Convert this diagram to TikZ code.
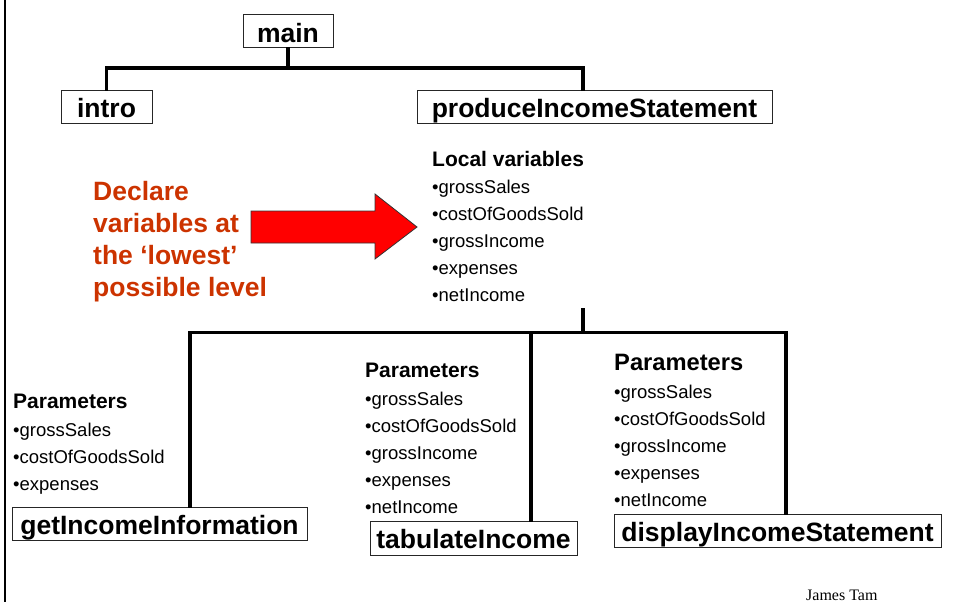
\documentclass[tikz,border=0pt]{standalone}
\usepackage{fontspec}
\setmainfont{Liberation Sans}
\newfontfamily\serifname{Liberation Serif}
\definecolor{declred}{RGB}{204,51,0}
\definecolor{arrowred}{RGB}{255,0,0}
\tikzset{
  fnbox/.style={draw=black!85, line width=1pt, inner sep=0pt, minimum height=33pt,
                text height=21pt, text depth=0pt,
                font=\fontsize{26.5}{30}\selectfont\bfseries},
  conn/.style={line width=3.6pt, line cap=rect},
  varlist/.style={anchor=north west, inner sep=0pt, align=left,
                  font=\fontsize{18.5}{27}\selectfont},
}
\newcommand{\hdr}[2]{{\fontsize{#1}{27}\selectfont\bfseries #2}}
\begin{document}
\begin{tikzpicture}[x=1pt,y=-1pt]
  \useasboundingbox (0,0) rectangle (957,602);
  % left page rule
  \draw[line width=2pt] (5,0) -- (5,602);

  % call hierarchy: top level
  \node[fnbox, minimum width=90pt]  (main)  at (288,31.5)   {main};
  \node[fnbox, minimum width=91pt]  (intro) at (106.5,106.5) {intro};
  \node[fnbox, minimum width=355pt] (pis)   at (594.5,106.5) {produceIncomeStatement};

  \coordinate (bar1) at (583,68);
  \draw[conn] (main.south) -- (main.south |- bar1);
  \draw[conn] (intro.north) |- (bar1) -- (bar1 |- pis.north);

  % local variables of produceIncomeStatement
  \node[varlist] (locals) at (432,151)
    {\hdr{21}{Local variables}\\ •grossSales\\ •costOfGoodsSold\\ •grossIncome\\ •expenses\\ •netIncome};

  % note with arrow
  \node[anchor=north west, inner sep=0pt, align=left, text=declred,
        font=\fontsize{26.5}{32}\selectfont\bfseries] (note) at (93,181.5)
    {Declare\\ variables at\\ the ‘lowest’\\ possible level};
  \draw[fill=arrowred, draw=black!80, line width=0.8pt]
    (251,211) -- (375,211) -- (375,194) -- (417,227) -- (375,259) -- (375,243) -- (251,243) -- cycle;

  % second level
  \node[fnbox, minimum width=295pt] (gii) at (159.5,523.5) {getIncomeInformation};
  \node[fnbox, minimum width=207pt, minimum height=34pt] (tab) at (473.5,538) {tabulateIncome};
  \node[fnbox, minimum width=327pt] (dis) at (777.5,530.5) {displayIncomeStatement};

  \coordinate (stemtop) at (583,310);
  \coordinate (bar2) at (583,332.5);
  \coordinate (bar2l) at (190,332.5);
  \coordinate (bar2m) at (531,332.5);
  \coordinate (bar2r) at (786,332.5);
  \draw[conn] (stemtop) -- (bar2);
  \draw[conn] (gii.north -| bar2l) -- (bar2l) -- (bar2r) -- (bar2r |- dis.north);
  \draw[conn] (bar2m) -- (bar2m |- tab.north);

  % parameter lists
  \node[varlist] (pgii) at (13,393.5)
    {\hdr{21}{Parameters}\\[1pt] •grossSales\\ •costOfGoodsSold\\ •expenses};
  \node[varlist] (ptab) at (365,362.5)
    {\hdr{21}{Parameters}\\[1pt] •grossSales\\ •costOfGoodsSold\\ •grossIncome\\ •expenses\\ •netIncome};
  \node[varlist] (pdis) at (614,354)
    {\hdr{23.7}{Parameters}\\[1pt] •grossSales\\ •costOfGoodsSold\\ •grossIncome\\ •expenses\\ •netIncome};

  % footer
  \node[anchor=base west, inner sep=0pt, font=\serifname\fontsize{16}{18}\selectfont] (author) at (806,600) {James Tam};
\end{tikzpicture}
\end{document}
